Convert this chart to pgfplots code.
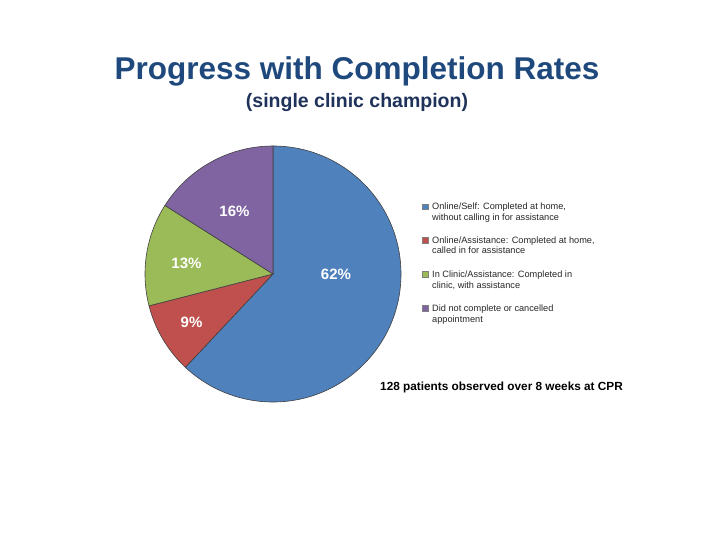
\documentclass[border=0pt]{standalone}
\usepackage{fontspec}
\setmainfont{Liberation Sans}
\usepackage{pgfplots}
\usepackage{pgfplotstable}
\pgfplotsset{compat=1.18}

\definecolor{pie0}{RGB}{79,129,189}
\definecolor{pie1}{RGB}{192,80,77}
\definecolor{pie2}{RGB}{155,187,89}
\definecolor{pie3}{RGB}{128,100,162}
\definecolor{titleblue}{RGB}{31,73,125}
\definecolor{subblue}{RGB}{31,50,90}

\tikzset{
  pct/.style={font=\fontsize{15}{18}\selectfont\bfseries, text=white},
  leg/.style={font=\fontsize{9.2}{10.5}\selectfont, text=black!85, anchor=base west, inner sep=0pt},
  legbox/.style={draw=black!50, line width=0.4pt},
}

% share in percent, label position (pixels from top left)
\pgfplotstableread[col sep=comma]{
share,lx,ly
62,336,274
9,191.5,322.5
13,186.5,263
16,234.5,211.5
}\piedata

\begin{document}
\begin{tikzpicture}
\begin{axis}[
  width=720pt, height=540pt, scale only axis,
  xmin=0, xmax=720, ymin=0, ymax=540, y dir=reverse,
  hide axis, clip=false,
]
\path (rel axis cs:0,0) rectangle (rel axis cs:1,1);

\pgfplotstablegetrowsof{\piedata}
\pgfmathtruncatemacro\lastrow{\pgfplotsretval-1}
\def\cum{0}
\pgfplotsforeachungrouped \ii in {0,...,\lastrow}{%
  \pgfplotstablegetelem{\ii}{share}\of\piedata
  \let\pv\pgfplotsretval
  \pgfplotstablegetelem{\ii}{lx}\of\piedata
  \let\lx\pgfplotsretval
  \pgfplotstablegetelem{\ii}{ly}\of\piedata
  \let\ly\pgfplotsretval
  \pgfmathsetmacro\sa{90-3.6*\cum}
  \pgfmathsetmacro\ea{90-3.6*(\cum+\pv)}
  \edef\tmp{%
    \noexpand\filldraw[fill=pie\ii, draw=black!75, line width=0.6pt]
      (axis cs:273,274) -- ++(\sa:128pt) arc[start angle=\sa, end angle=\ea, radius=128pt] -- cycle;
    \noexpand\node[pct] at (axis cs:\lx,\ly) {\pv\noexpand\%};
  }%
  \tmp
  \pgfmathsetmacro\cum{\cum+\pv}
}

% titles
\node[anchor=base, text=titleblue, font=\fontsize{31.5}{36}\selectfont\bfseries]
  at (axis cs:357,80) {Progress with Completion Rates};
\node[anchor=base, text=subblue, font=\fontsize{19.5}{24}\selectfont\bfseries]
  at (axis cs:357,107.5) {(single clinic champion)};

% legend
\filldraw[legbox, fill=pie0] (axis cs:422.3,204) rectangle (axis cs:427.7,209.4);
\filldraw[legbox, fill=pie1] (axis cs:422.3,237.5) rectangle (axis cs:427.7,242.9);
\filldraw[legbox, fill=pie2] (axis cs:422.3,271.5) rectangle (axis cs:427.7,276.9);
\filldraw[legbox, fill=pie3] (axis cs:422.3,305.5) rectangle (axis cs:427.7,310.9);
\node[leg] at (axis cs:432,210) {Online/Self: Completed at home,};
\node[leg] at (axis cs:432,220.5) {without calling in for assistance};
\node[leg] at (axis cs:432,243.5) {Online/Assistance: Completed at home,};
\node[leg] at (axis cs:432,254) {called in for assistance};
\node[leg] at (axis cs:432,277.5) {In Clinic/Assistance: Completed in};
\node[leg] at (axis cs:432,288) {clinic, with assistance};
\node[leg] at (axis cs:432,311.5) {Did not complete or cancelled};
\node[leg] at (axis cs:432,322) {appointment};

% note
\node[anchor=base west, inner sep=0pt, font=\fontsize{11.8}{14}\selectfont\bfseries]
  at (axis cs:380,390.5) {128 patients observed over 8 weeks at CPR};
\end{axis}
\end{tikzpicture}
\end{document}
